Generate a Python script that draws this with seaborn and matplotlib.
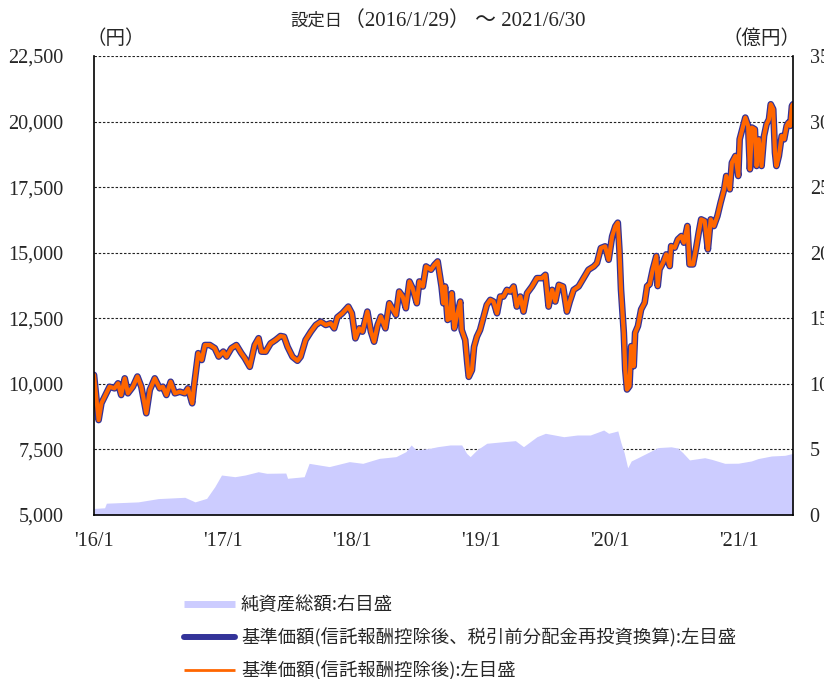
import matplotlib
matplotlib.use("Agg")
import matplotlib.pyplot as plt
from matplotlib.lines import Line2D
import pandas as pd
import seaborn as sns

# 基準価額 (円)
nav_dates = [
    "2016-01-29", "2016-02-11", "2016-02-19", "2016-02-28", "2016-03-13", "2016-03-27", "2016-04-06",
    "2016-04-15", "2016-04-25", "2016-05-04", "2016-05-18", "2016-05-31", "2016-06-11", "2016-06-25",
    "2016-07-05", "2016-07-19", "2016-08-02", "2016-08-11", "2016-08-21", "2016-09-02", "2016-09-14",
    "2016-09-28", "2016-10-12", "2016-10-21", "2016-11-02", "2016-11-07", "2016-11-19", "2016-11-29",
    "2016-12-08", "2016-12-22", "2017-01-05", "2017-01-16", "2017-01-29", "2017-02-07", "2017-02-21",
    "2017-03-07", "2017-03-21", "2017-03-31", "2017-04-14", "2017-04-28", "2017-05-09", "2017-05-17",
    "2017-05-29", "2017-06-12", "2017-06-26", "2017-07-10", "2017-07-20", "2017-07-30", "2017-08-13",
    "2017-08-27", "2017-09-05", "2017-09-19", "2017-10-04", "2017-10-18", "2017-11-01", "2017-11-15",
    "2017-11-29", "2017-12-09", "2017-12-18", "2018-01-01", "2018-01-18", "2018-01-28", "2018-02-07",
    "2018-02-18", "2018-02-27", "2018-03-13", "2018-03-23", "2018-04-01", "2018-04-11", "2018-04-20",
    "2018-05-03", "2018-05-14", "2018-05-25", "2018-06-02", "2018-06-11", "2018-06-21", "2018-06-30",
    "2018-07-10", "2018-07-19", "2018-07-31", "2018-08-07", "2018-08-17", "2018-08-26", "2018-09-09",
    "2018-09-19", "2018-09-28", "2018-10-09", "2018-10-14", "2018-10-19", "2018-10-26", "2018-11-02",
    "2018-11-07", "2018-11-14", "2018-11-21", "2018-12-01", "2018-12-05", "2018-12-15", "2018-12-21",
    "2018-12-25", "2019-01-03", "2019-01-09", "2019-01-17", "2019-01-26", "2019-02-05", "2019-02-14",
    "2019-02-24", "2019-03-05", "2019-03-15", "2019-03-24", "2019-04-02", "2019-04-12", "2019-04-21",
    "2019-05-01", "2019-05-10", "2019-05-20", "2019-05-29", "2019-06-08", "2019-06-22", "2019-07-06",
    "2019-07-20", "2019-07-30", "2019-08-08", "2019-08-18", "2019-08-27", "2019-09-06", "2019-09-18",
    "2019-09-29", "2019-10-07", "2019-10-18", "2019-11-01", "2019-11-15", "2019-11-29", "2019-12-14",
    "2019-12-23", "2020-01-03", "2020-01-15", "2020-01-25", "2020-02-04", "2020-02-13", "2020-02-20",
    "2020-02-25", "2020-02-29", "2020-03-08", "2020-03-12", "2020-03-17", "2020-03-24", "2020-03-29",
    "2020-04-05", "2020-04-09", "2020-04-17", "2020-04-26", "2020-05-06", "2020-05-13", "2020-05-20",
    "2020-05-29", "2020-06-08", "2020-06-12", "2020-06-17", "2020-06-27", "2020-07-06", "2020-07-16",
    "2020-07-20", "2020-07-30", "2020-08-08", "2020-08-18", "2020-08-25", "2020-09-04", "2020-09-10",
    "2020-09-20", "2020-09-29", "2020-10-06", "2020-10-13", "2020-10-23", "2020-11-01", "2020-11-09",
    "2020-11-18", "2020-11-28", "2020-12-07", "2020-12-17", "2020-12-23", "2021-01-02", "2021-01-08",
    "2021-01-18", "2021-01-26", "2021-01-30", "2021-02-09", "2021-02-15", "2021-02-23", "2021-02-28",
    "2021-03-06", "2021-03-14", "2021-03-19", "2021-03-25", "2021-04-02", "2021-04-09", "2021-04-16",
    "2021-04-23", "2021-04-28", "2021-05-05", "2021-05-10", "2021-05-14", "2021-05-21", "2021-05-29",
    "2021-06-05", "2021-06-12", "2021-06-17", "2021-06-22", "2021-06-27", "2021-06-30",
]
nav_values = [
    10340, 8620, 9260, 9510, 9890, 9830, 10020,
    9575, 10210, 9640, 9890, 10280, 9890, 8880,
    9770, 10210, 9830, 9890, 9575, 10080, 9640,
    9700, 9640, 9830, 9260, 9890, 11170, 10910,
    11480, 11480, 11360, 11040, 11230, 11040, 11360,
    11480, 11170, 10980, 10650, 11480, 11740, 11230,
    11225, 11543, 11671, 11824, 11798, 11416, 11033,
    10880, 11033, 11671, 11990, 12245, 12372, 12245,
    12309, 12117, 12538, 12691, 12946, 12691, 11735,
    12117, 11990, 12755, 11990, 11607, 12245, 12564,
    12117, 13074, 12819, 12628, 13520, 13329, 12883,
    13903, 13648, 13074, 13903, 13712, 14477, 14350,
    14541, 14668, 13712, 13074, 13712, 12436, 12500,
    13457, 12117, 12564, 13138, 12054, 11671, 10778,
    10268, 10523, 11416, 11798, 12054, 12564, 13010,
    13202, 13138, 12691, 13329, 13329, 13584, 13520,
    13712, 12946, 13329, 12755, 13457, 13712, 14031,
    14031, 14158, 12946, 13584, 13138, 13776, 13712,
    12755, 13138, 13584, 13712, 14031, 14350, 14477,
    14605, 15178, 15242, 14732, 15625, 16007, 16145,
    15000, 13600, 11947, 10548, 9785, 9912, 11438,
    10675, 11947, 12202, 12838, 13092, 13728, 13792,
    14364, 14873, 13728, 14364, 14618, 14936, 14491,
    15254, 15191, 15509, 15636, 15382, 16018, 14555,
    14555, 15191, 15763, 16272, 16208, 15127, 16272,
    16018, 16399, 16908, 17417, 17926, 17417, 18434,
    18689, 17926, 19325, 19834, 20152, 19834, 18180,
    19770, 19706, 18307, 19325, 18307, 19452, 19897,
    20088, 20660, 20470, 18816, 18307, 18689, 19452,
    19325, 19834, 19961, 19834, 20597, 20660,
]
# no distributions paid, so the reinvested series is the same as the plain one
nav_reinvest_values = list(nav_values)

# 純資産総額 (億円)
aum_dates = [
    "2016-01-29", "2016-02-28", "2016-03-04", "2016-06-02", "2016-07-29", "2016-10-12", "2016-11-10",
    "2016-12-13", "2017-01-05", "2017-01-24", "2017-03-03", "2017-04-01", "2017-05-08", "2017-06-01",
    "2017-07-25", "2017-07-30", "2017-09-15", "2017-09-29", "2017-11-25", "2018-01-21", "2018-02-28",
    "2018-04-16", "2018-06-02", "2018-06-30", "2018-07-15", "2018-07-29", "2018-09-05", "2018-09-28",
    "2018-11-02", "2018-12-05", "2018-12-19", "2018-12-29", "2019-01-17", "2019-02-14", "2019-04-02",
    "2019-05-06", "2019-05-29", "2019-07-06", "2019-07-30", "2019-09-20", "2019-10-28", "2019-12-04",
    "2020-01-11", "2020-01-25", "2020-02-20", "2020-02-29", "2020-03-09", "2020-03-19", "2020-03-29",
    "2020-04-17", "2020-05-15", "2020-06-13", "2020-07-20", "2020-08-08", "2020-08-22", "2020-09-10",
    "2020-10-23", "2020-11-11", "2020-12-19", "2021-01-26", "2021-03-04", "2021-03-23", "2021-04-30",
    "2021-06-07", "2021-06-30",
]
aum_values = [
    0.5, 0.55, 0.9, 1.0, 1.25, 1.35, 1.0,
    1.27, 2.16, 3.05, 2.92, 3.05, 3.3, 3.18,
    3.2, 2.8, 2.92, 3.94, 3.69, 4.07, 3.94,
    4.32, 4.45, 4.83, 5.34, 4.96, 5.08, 5.21,
    5.34, 5.34, 4.7, 4.45, 4.96, 5.47, 5.59,
    5.67, 5.21, 5.97, 6.23, 5.97, 6.10, 6.10,
    6.48, 6.23, 6.41, 5.5, 4.75, 3.6, 4.12,
    4.37, 4.75, 5.14, 5.2, 5.1, 4.75, 4.2,
    4.37, 4.25, 3.94, 3.95, 4.12, 4.3, 4.5,
    4.55, 4.7,
]

left_ticks = [5000, 7500, 10000, 12500, 15000, 17500, 20000, 22500]
right_ticks = [0, 5, 10, 15, 20, 25, 30, 35]
x_tick_dates = ["2016-01-29", "2017-01-29", "2018-01-29", "2019-01-29", "2020-01-29", "2021-01-29"]
x_tick_labels = ["'16/1", "'17/1", "'18/1", "'19/1", "'20/1", "'21/1"]

legend_labels = [
    "純資産総額:右目盛",
    "基準価額(信託報酬控除後、税引前分配金再投資換算):左目盛",
    "基準価額(信託報酬控除後):左目盛",
]

NAVY = "#333399"
ORANGE = "#FF6600"
AREA = "#CCCCFF"
SERIF = "Liberation Serif"
CJK = "Noto Sans CJK JP"

sns.set_style("white")
plt.rcParams["font.family"] = [CJK, "DejaVu Sans"]

df_nav = pd.DataFrame({"date": pd.to_datetime(nav_dates), "nav": nav_values,
                       "nav_reinvest": nav_reinvest_values})
df_aum = pd.DataFrame({"date": pd.to_datetime(aum_dates), "aum": aum_values})

fig = plt.figure(figsize=(8.24, 6.79), dpi=100)
ax = fig.add_axes([94 / 824, 1 - 515 / 679, (793 - 94) / 824, (515 - 56) / 679])
ax2 = ax.twinx()
ax.set_zorder(2)
ax2.set_zorder(1)
ax.patch.set_visible(False)

# net assets area on the right scale, grid drawn under it
ax2.fill_between(df_aum["date"], df_aum["aum"], color=AREA, lw=0, zorder=2)
ax2.set_ylim(0, 35)
ax2.set_yticks(right_ticks, labels=[str(v) for v in right_ticks], fontfamily=SERIF, fontsize=14.5)
ax2.yaxis.grid(True, linestyle=(0, (2.2, 1.6)), color="#222222", lw=0.8)
ax2.set_axisbelow(True)
ax2.tick_params(axis="y", length=0, pad=12)
ax2.set_ylabel("")
for s in ax2.spines.values():
    s.set_visible(False)

# NAV lines on the left scale
sns.lineplot(data=df_nav, x="date", y="nav_reinvest", ax=ax, color=NAVY, lw=4.8)
sns.lineplot(data=df_nav, x="date", y="nav", ax=ax, color=ORANGE, lw=3.0)

ax.set_ylim(5000, 22500)
ax.set_yticks(left_ticks, labels=[f"{v:,}" for v in left_ticks], fontfamily=SERIF, fontsize=14.5)
ax.set_xlim(pd.Timestamp("2016-01-29"), pd.Timestamp("2021-06-30"))
ax.set_xticks(pd.to_datetime(x_tick_dates), labels=x_tick_labels, fontfamily=SERIF, fontsize=14.5)
ax.tick_params(axis="y", length=0, pad=22)
ax.tick_params(axis="x", direction="in", length=5, width=1, color="#444444", pad=12)
ax.set_xlabel("")
ax.set_ylabel("")
ax.spines["top"].set_visible(False)
for side in ["left", "right", "bottom"]:
    ax.spines[side].set_color("black")
    ax.spines[side].set_linewidth(1.2)

# title: kanji a bit smaller than the serif digits
fig.text(290 / 824, 1 - 21 / 679, "設定日", ha="left", va="center", fontsize=12.5)
fig.text(344 / 824, 1 - 21 / 679, "（2016/1/29） ～ 2021/6/30", ha="left", va="center",
         fontsize=15, family=[SERIF, CJK])
fig.text(116 / 824, 1 - 38 / 679, "（円）", ha="center", va="center", fontsize=14)
fig.text(762 / 824, 1 - 38 / 679, "（億円）", ha="center", va="center", fontsize=14)

handles = [
    Line2D([0], [0], color=AREA, lw=5, solid_capstyle="butt"),
    Line2D([0], [0], color=NAVY, lw=4.3, solid_capstyle="round"),
    Line2D([0], [0], color=ORANGE, lw=2.0, solid_capstyle="butt"),
]
fig.legend(handles, legend_labels, loc="upper left", bbox_to_anchor=(184 / 824, 1 - 596 / 679),
           frameon=False, fontsize=13.2, handlelength=2.8, handletextpad=0.3,
           labelspacing=0.77, borderpad=0, borderaxespad=0)

fig.savefig("out.png", dpi=100)
